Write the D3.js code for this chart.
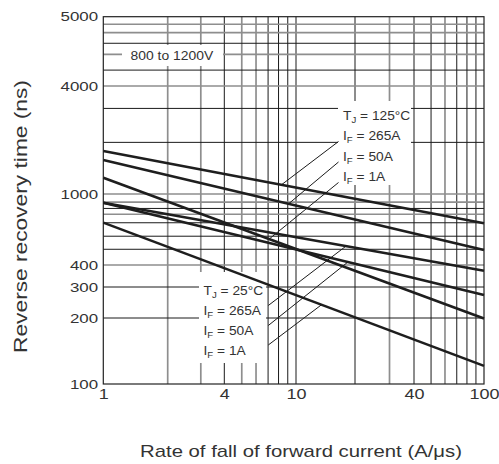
<!DOCTYPE html>
<html><head><meta charset="utf-8">
<script src="https://cdn.jsdelivr.net/npm/d3@7"></script>
<style>
body{margin:0;background:#fff}
text{font-family:"Liberation Sans",Arial,sans-serif;fill:#333;white-space:pre}
</style>
</head><body><svg id="c" width="499" height="464"></svg>
<script>
// ---- data ----
const rateX = [1, 100];                 // A/us, ends of each straight curve
const tj125_if265 = [1737, 685];
const tj125_if50  = [1547, 486];
const tj125_if1   = [1233, 199];
const tj25_if265  = [894, 371];
const tj25_if50   = [894, 270];
const tj25_if1    = [691, 121];
const xTickLabels = [1, 4, 10, 40, 100];
const yTickLabels = [100, 200, 300, 400, 1000, 4000, 5000];
const xGrid = [2,3,4,5,6,7,8,9,10,20,30,40,50,60,70,80,90];
const xGridGray = [2,3,5,6,30,60];
const yGrid = [200,300,400,490,580,690,770,830,900,1000,1940,3000,4000,4210,4430,4590,4750,4880];
const yGridGray = [400,770,900,1000,4000,4430,4750,4880];
const labels125 = ["125°C", "265A", "50A", "1A"];
const labels25  = ["25°C", "265A", "50A", "1A"];
const leader125X = [8.3, 9.1, 7.1];
const leader25X  = [18, 18.4, 13.5];
const voltageLabel = "800 to 1200V";

const curves125 = [tj125_if265, tj125_if50, tj125_if1];
const curves25  = [tj25_if265, tj25_if50, tj25_if1];

// ---- scales (the reference axes are not evenly logarithmic) ----
const x = d3.scaleLog().domain([1,2,4,10,40,100]).range([103.3,167.7,224.3,296,414,484]);
const y = d3.scaleLog().domain([100,200,300,400,1000,4000,5000]).range([384,318,287,265,194,86,16.7]);

const svg = d3.select("#c");
const X0 = x(1), X1 = x(100), Y0 = y(100), Y1 = y(5000);

// grid
const grid = svg.append("g");
grid.selectAll(".vx").data(xGrid).join("line")
  .attr("x1", d => x(d)).attr("x2", d => x(d)).attr("y1", Y1).attr("y2", Y0)
  .attr("stroke", d => xGridGray.includes(d) ? "#8e8e8e" : "#1a1a1a")
  .attr("stroke-width", d => xGridGray.includes(d) ? 1.7 : 1);
grid.selectAll(".hy").data(yGrid).join("line")
  .attr("y1", d => y(d)).attr("y2", d => y(d)).attr("x1", X0).attr("x2", X1)
  .attr("stroke", d => yGridGray.includes(d) ? "#8e8e8e" : "#1a1a1a")
  .attr("stroke-width", d => yGridGray.includes(d) ? 1.7 : 1);

// white label boxes
const boxes = [[122,45,101,21],[338,101,73,84],[199,272,67,91]];
svg.append("g").selectAll("rect").data(boxes).join("rect")
  .attr("x", d => d[0]).attr("y", d => d[1]).attr("width", d => d[2]).attr("height", d => d[3])
  .attr("fill", "#fff");

// frame
svg.append("rect").attr("x", X0).attr("y", Y1).attr("width", X1 - X0).attr("height", Y0 - Y1)
  .attr("fill", "none").attr("stroke", "#222").attr("stroke-width", 1.2);

// axes (labels only)
const ax = svg.append("g").attr("transform", `translate(0,${Y0})`)
  .call(d3.axisBottom(x).tickValues(xTickLabels).tickFormat(d3.format("d")).tickSize(0).tickPadding(4.5));
ax.select(".domain").remove();
ax.selectAll("text").attr("font-size", 15).attr("font-family", null).attr("transform", "scale(1.2,1)").style("fill", "#333");
const ay = svg.append("g").attr("transform", `translate(${X0},0)`)
  .call(d3.axisLeft(y).tickValues(yTickLabels).tickFormat(d3.format("d")).tickSize(0).tickPadding(4));
ay.select(".domain").remove();
ay.selectAll("text").attr("font-size", 13).attr("font-family", null).attr("transform", "scale(1.3,1)").style("fill", "#333");

// curves
const line = d3.line().x(d => x(d[0])).y(d => y(d[1]));
const allCurves = curves125.concat(curves25);
svg.append("g").selectAll("path").data(allCurves).join("path")
  .attr("d", v => line(rateX.map((r, i) => [r, v[i]])))
  .attr("fill", "none").attr("stroke", "#1e1e1e").attr("stroke-width", 2.6).attr("stroke-linecap", "butt");

function curveY(v, xv) {
  const t = (x(xv) - x(rateX[0])) / (x(rateX[1]) - x(rateX[0]));
  return y(v[0]) + t * (y(v[1]) - y(v[0]));
}

function subLabel(g, tx, ty, main, sub, rest, fs, sx) {
  const t = g.append("text").attr("transform", `translate(${tx},${ty}) scale(${sx},1)`).attr("font-size", fs);
  t.append("tspan").text(main);
  t.append("tspan").attr("font-size", fs * 0.7).attr("dy", 3).text(sub);
  t.append("tspan").attr("dy", -3).text(" = " + rest);
}

const ann = svg.append("g");
// 125 °C group
const b125 = [119.5, 140, 160.5, 181];
subLabel(ann, 343, b125[0], "T", "J", labels125[0], 13, 1.06);
for (let i = 1; i < 4; i++) subLabel(ann, 343, b125[i], "I", "F", labels125[i], 13, 1.06);
curves125.forEach((v, i) => {
  ann.append("line").attr("x1", 338.5).attr("y1", b125[i + 1] + 1.5)
    .attr("x2", x(leader125X[i])).attr("y2", curveY(v, leader125X[i]))
    .attr("stroke", "#1a1a1a").attr("stroke-width", 1);
});
// 25 °C group
const b25 = [294.5, 315, 335, 354.5];
subLabel(ann, 203.5, b25[0], "T", "J", labels25[0], 13, 1.06);
for (let i = 1; i < 4; i++) subLabel(ann, 203.5, b25[i], "I", "F", labels25[i], 13, 1.06);
curves25.forEach((v, i) => {
  ann.append("line").attr("x1", 268.3).attr("y1", b25[i + 1] - 9.5)
    .attr("x2", x(leader25X[i])).attr("y2", curveY(v, leader25X[i]))
    .attr("stroke", "#1a1a1a").attr("stroke-width", 1);
});
// voltage label
ann.append("text").attr("transform", "translate(130.5,59.5) scale(1.07,1)").attr("font-size", 13).text(voltageLabel);

// axis titles
svg.append("text").attr("transform", "translate(301,457) scale(1.27,1)").attr("text-anchor", "middle")
  .attr("font-size", 16).text("Rate of fall of forward current (A/μs)");
svg.append("text").attr("transform", "translate(27,216.5) rotate(-90) scale(1.3,1)").attr("text-anchor", "middle")
  .attr("font-size", 17.5).text("Reverse recovery time (ns)");
</script>
</body></html>
